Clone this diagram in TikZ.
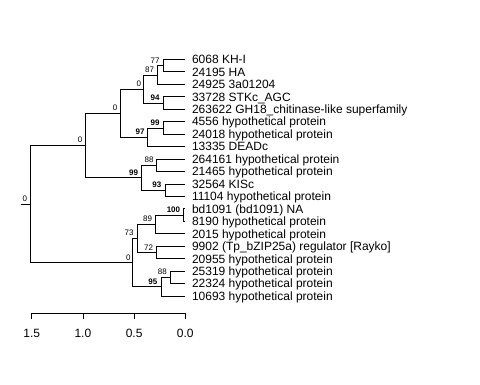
\documentclass[tikz,border=0pt]{standalone}
\usepackage{fontspec}
\setmainfont{Liberation Sans}
\usetikzlibrary{calc}
\begin{document}
\begin{tikzpicture}[x=1pt,y=-1pt,
  edge/.style={draw=black, line width=0.8pt},
  leaflab/.style={anchor=base west, inner sep=0pt, font=\fontsize{12}{14}\selectfont},
  nlab/.style={anchor=base east, inner sep=0pt, font=\fontsize{8}{9}\selectfont},
  blab/.style={nlab, font=\fontsize{8}{9}\selectfont\bfseries},
  axlab/.style={anchor=center, inner sep=0pt, font=\fontsize{12}{14}\selectfont}]
\fill[white] (0,0) rectangle (480,384);
\useasboundingbox (0,0) rectangle (480,384);
% leaf tips
\def\tx{185.3}
\coordinate (t1) at (\tx,59.3);
\coordinate (t2) at (\tx,71.8);
\coordinate (t3) at (\tx,84.2);
\coordinate (t4) at (\tx,96.7);
\coordinate (t5) at (\tx,109.1);
\coordinate (t6) at (\tx,121.6);
\coordinate (t7) at (\tx,134.1);
\coordinate (t8) at (\tx,146.5);
\coordinate (t9) at (\tx,159.0);
\coordinate (t10) at (\tx,171.4);
\coordinate (t11) at (\tx,183.9);
\coordinate (t12) at (\tx,196.4);
\coordinate (t13) at (\tx,208.8);
\coordinate (t14) at (\tx,221.3);
\coordinate (t15) at (\tx,233.7);
\coordinate (t16) at (\tx,246.2);
\coordinate (t17) at (\tx,258.7);
\coordinate (t18) at (\tx,271.1);
\coordinate (t19) at (\tx,283.6);
\coordinate (t20) at (\tx,296.0);
% internal nodes
\coordinate (n77) at (163.3,65.6);
\coordinate (n87) at (157.7,74.9);
\coordinate (n94) at (163.3,102.9);
\coordinate (nC) at (143.3,88.9);
\coordinate (n99a) at (163.3,127.9);
\coordinate (n97) at (147.7,137.2);
\coordinate (nB) at (120,113.1);
\coordinate (n88a) at (156.7,165.2);
\coordinate (n93) at (165,190.2);
\coordinate (n99b) at (141.7,177.7);
\coordinate (nA) at (85,145.4);
\coordinate (n100) at (183.8,215.1);
\coordinate (n89) at (155.7,224.4);
\coordinate (n72) at (156.7,252.5);
\coordinate (n73) at (137.7,238.4);
\coordinate (n88b) at (170,277.4);
\coordinate (n95) at (161,286.7);
\coordinate (nD) at (132.7,262.6);
\coordinate (root) at (30.7,204);
\coordinate (rs) at (20.7,204);
% edges
\draw[edge] (n77) |- (t1); \draw[edge] (n77) |- (t2);
\draw[edge] (n87) |- (n77); \draw[edge] (n87) |- (t3);
\draw[edge] (n94) |- (t4); \draw[edge] (n94) |- (t5);
\draw[edge] (nC) |- (n87); \draw[edge] (nC) |- (n94);
\draw[edge] (n99a) |- (t6); \draw[edge] (n99a) |- (t7);
\draw[edge] (n97) |- (n99a); \draw[edge] (n97) |- (t8);
\draw[edge] (nB) |- (nC); \draw[edge] (nB) |- (n97);
\draw[edge] (n88a) |- (t9); \draw[edge] (n88a) |- (t10);
\draw[edge] (n93) |- (t11); \draw[edge] (n93) |- (t12);
\draw[edge] (n99b) |- (n88a); \draw[edge] (n99b) |- (n93);
\draw[edge] (nA) |- (nB); \draw[edge] (nA) |- (n99b);
\draw[edge] (n100) |- (t13); \draw[edge] (n100) |- (t14);
\draw[edge] (n89) |- (n100); \draw[edge] (n89) |- (t15);
\draw[edge] (n72) |- (t16); \draw[edge] (n72) |- (t17);
\draw[edge] (n73) |- (n89); \draw[edge] (n73) |- (n72);
\draw[edge] (n88b) |- (t18); \draw[edge] (n88b) |- (t19);
\draw[edge] (n95) |- (n88b); \draw[edge] (n95) |- (t20);
\draw[edge] (nD) |- (n73); \draw[edge] (nD) |- (n95);
\draw[edge] (root) |- (nA); \draw[edge] (root) |- (nD);
\draw[edge] (rs) -- (root);
% leaf labels
\node[leaflab] (l1) at ($(t1)+(6.5,4.3)$) {6068 KH-I};
\node[leaflab] (l2) at ($(t2)+(6.5,4.3)$) {24195 HA};
\node[leaflab] (l3) at ($(t3)+(6.5,4.3)$) {24925 3a01204};
\node[leaflab] (l4) at ($(t4)+(6.5,4.3)$) {33728 STKc\_AGC};
\node[leaflab] (l5) at ($(t5)+(6.5,4.3)$) {263622 GH18\_chitinase-like superfamily};
\node[leaflab] (l6) at ($(t6)+(6.5,4.3)$) {4556 hypothetical protein};
\node[leaflab] (l7) at ($(t7)+(6.5,4.3)$) {24018 hypothetical protein};
\node[leaflab] (l8) at ($(t8)+(6.5,4.3)$) {13335 DEADc};
\node[leaflab] (l9) at ($(t9)+(6.5,4.3)$) {264161 hypothetical protein};
\node[leaflab] (l10) at ($(t10)+(6.5,4.3)$) {21465 hypothetical protein};
\node[leaflab] (l11) at ($(t11)+(6.5,4.3)$) {32564 KISc};
\node[leaflab] (l12) at ($(t12)+(6.5,4.3)$) {11104 hypothetical protein};
\node[leaflab] (l13) at ($(t13)+(6.5,4.3)$) {bd1091 (bd1091) NA};
\node[leaflab] (l14) at ($(t14)+(6.5,4.3)$) {8190 hypothetical protein};
\node[leaflab] (l15) at ($(t15)+(6.5,4.3)$) {2015 hypothetical protein};
\node[leaflab] (l16) at ($(t16)+(6.5,4.3)$) {9902 (Tp\_bZIP25a) regulator [Rayko]};
\node[leaflab] (l17) at ($(t17)+(6.5,4.3)$) {20955 hypothetical protein};
\node[leaflab] (l18) at ($(t18)+(6.5,4.3)$) {25319 hypothetical protein};
\node[leaflab] (l19) at ($(t19)+(6.5,4.3)$) {22324 hypothetical protein};
\node[leaflab] (l20) at ($(t20)+(6.5,4.3)$) {10693 hypothetical protein};
% node support labels
\node[nlab] (s77) at ($(n77)+(-3.5,-2.5)$) {77};
\node[nlab] (s87) at ($(n87)+(-3.5,-2.5)$) {87};
\node[blab] (s94) at ($(n94)+(-3.5,-2.5)$) {94};
\node[nlab] (sC) at ($(nC)+(-2,-2.5)$) {0};
\node[blab] (s99a) at ($(n99a)+(-3.5,-2.5)$) {99};
\node[blab] (s97) at ($(n97)+(-3,-2.5)$) {97};
\node[nlab] (sB) at ($(nB)+(-2.5,-2.5)$) {0};
\node[nlab] (s88a) at ($(n88a)+(-3,-2.5)$) {88};
\node[blab] (s93) at ($(n93)+(-3.5,-2.5)$) {93};
\node[blab] (s99b) at ($(n99b)+(-3.5,-2.5)$) {99};
\node[nlab] (sA) at ($(nA)+(-2.5,-2.5)$) {0};
\node[blab] (s100) at ($(n100)+(-3.5,-2.5)$) {100};
\node[nlab] (s89) at ($(n89)+(-3.5,-2.5)$) {89};
\node[nlab] (s72) at ($(n72)+(-3.5,-2.5)$) {72};
\node[nlab] (s73) at ($(n73)+(-4,-2.5)$) {73};
\node[nlab] (s88b) at ($(n88b)+(-3,-2.5)$) {88};
\node[blab] (s95) at ($(n95)+(-3.5,-2.5)$) {95};
\node[nlab] (sD) at ($(nD)+(-2,-2.5)$) {0};
\node[nlab] (sR) at ($(root)+(-3.4,-2.5)$) {0};
% axis
\coordinate (a15) at (31.7,313.3);
\coordinate (a10) at (82.9,313.3);
\coordinate (a05) at (134.1,313.3);
\coordinate (a00) at (185.3,313.3);
\draw[edge] (a15) -- (a00);
\foreach \c/\t in {a15/1.5,a10/1.0,a05/0.5,a00/0.0}{
  \draw[edge] (\c) -- ++(0,6);
  \node[axlab] (lab\c) at ($(\c)+(0,20)$) {\t};
}
\end{tikzpicture}
\end{document}
